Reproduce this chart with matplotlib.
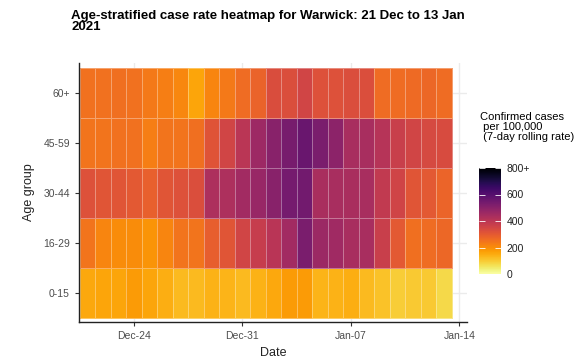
import matplotlib
matplotlib.use("Agg")
import matplotlib.pyplot as plt
import matplotlib.dates as mdates
import numpy as np
import pandas as pd

plt.rcParams['font.family'] = ['Liberation Sans', 'DejaVu Sans']

# data: 7-day rolling case rate per 100,000 by age group, 21 Dec 2020 - 13 Jan 2021
dates = pd.date_range("2020-12-21", "2021-01-13", freq="D")
age_groups = ["0-15", "16-29", "30-44", "45-59", "60+"]

rate_0_15 = [155, 160, 160, 175, 160, 145, 125, 125, 140, 135, 125, 140,
             155, 175, 175, 135, 140, 145, 125, 115, 95, 100, 100, 75]
rate_16_29 = [245, 215, 200, 200, 190, 215, 245, 245, 290, 310, 350, 375,
              405, 450, 530, 465, 455, 440, 440, 370, 300, 255, 260, 270]
rate_30_44 = [320, 310, 310, 300, 285, 310, 320, 325, 430, 430, 450, 470,
              500, 540, 545, 435, 440, 435, 440, 385, 355, 310, 300, 275]
rate_45_59 = [245, 245, 250, 250, 225, 245, 245, 255, 315, 350, 400, 460,
              500, 535, 565, 530, 495, 440, 440, 410, 370, 350, 340, 335]
rate_60 = [250, 250, 255, 250, 235, 225, 210, 160, 215, 235, 260, 280,
           330, 325, 350, 320, 320, 325, 325, 260, 260, 265, 270, 260]

rates = np.array([rate_0_15, rate_16_29, rate_30_44, rate_45_59, rate_60])

fig = plt.figure(figsize=(5.85, 3.62), dpi=100)
ax = fig.add_axes([79 / 585, 1 - 322 / 362, 388 / 585, 259 / 362])

# tile edges half a day either side of each date
x_num = mdates.date2num(dates)
x_edges = np.append(x_num - 0.5, x_num[-1] + 0.5)
y_edges = np.arange(len(age_groups) + 1) - 0.5

mesh = ax.pcolormesh(x_edges, y_edges, rates, cmap="inferno_r", vmin=0, vmax=800,
                     edgecolors=(1, 1, 1, 0.35), linewidth=0.6, zorder=2)

ax.set_xlim(x_num[0] - 0.55, x_num[-1] + 1.5)
ax.set_ylim(-0.58, 4.6)

tick_dates = pd.to_datetime(["2020-12-24", "2020-12-31", "2021-01-07", "2021-01-14"])
ax.set_xticks(mdates.date2num(tick_dates))
ax.xaxis.set_major_formatter(mdates.DateFormatter("%b-%d"))
ax.set_yticks(range(len(age_groups)))
ax.set_yticklabels(age_groups)

ax.grid(True, color="#ebebeb", linewidth=1, zorder=0)
ax.set_axisbelow(True)
for side in ["top", "right"]:
    ax.spines[side].set_visible(False)
for side in ["left", "bottom"]:
    ax.spines[side].set_linewidth(1.0)
    ax.spines[side].set_color("#222222")
ax.tick_params(labelsize=7.5, labelcolor="#4d4d4d", length=3, width=0.8, color="#333333")

ax.set_xlabel("Date", fontsize=9, color="#222222", labelpad=4)
ax.set_ylabel("Age group", fontsize=9, color="#222222", labelpad=6)

fig.text(71 / 585, 1 - 10 / 362, "Age-stratified case rate heatmap for Warwick: 21 Dec to 13 Jan\n2021",
         fontsize=9.5, fontweight="bold", va="top", ha="left", linespacing=0.9)

# colour bar legend
cax = fig.add_axes([479 / 585, 1 - 274 / 362, 22 / 585, 106 / 362])
cb = fig.colorbar(mesh, cax=cax, ticks=[0, 200, 400, 600, 800])
cb.ax.set_yticklabels(["0", "200", "400", "600", "800+"])
cb.outline.set_visible(False)
cb.ax.tick_params(direction="in", length=4, width=0.6, color="white",
                  labelsize=7.5, labelcolor="#222222", left=True, pad=4)

fig.text(480 / 585, 1 - 112 / 362, "Confirmed cases\n per 100,000\n (7-day rolling rate)",
         fontsize=8, va="top", ha="left", linespacing=1.0)

fig.savefig("out.png", dpi=100)
